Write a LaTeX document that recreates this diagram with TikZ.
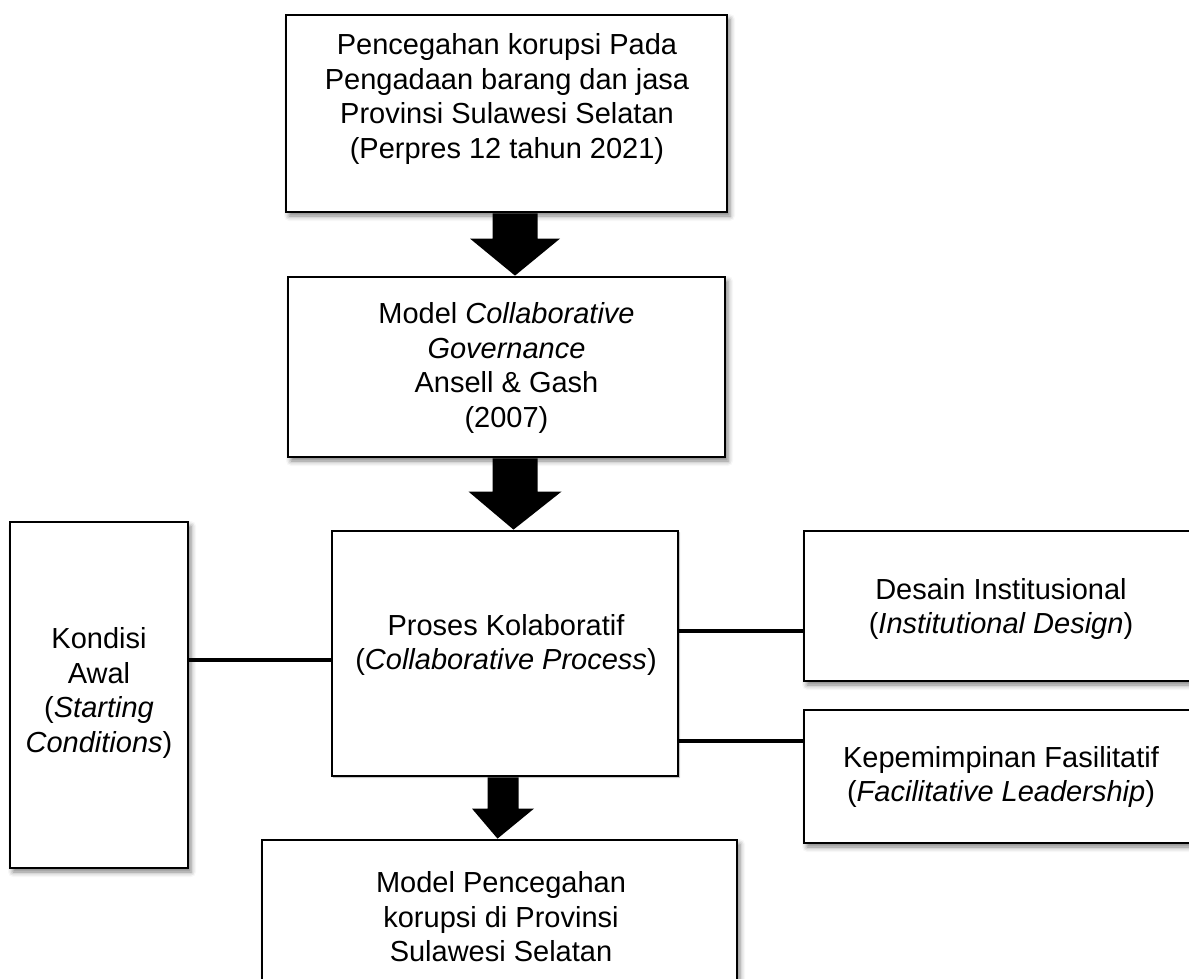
\documentclass[tikz,border=0pt]{standalone}
\usepackage{fontspec}
\setmainfont{Liberation Sans}
\usetikzlibrary{calc,shadows.blur}
\tikzset{
  box/.style={draw=black, line width=2.8pt, fill=white, rectangle, inner sep=0pt,
    blur shadow={shadow xshift=3pt, shadow yshift=-4pt, shadow blur radius=5pt, shadow opacity=50}},
  flatbox/.style={draw=black, line width=2.8pt, fill=white, rectangle, inner sep=0pt,
    blur shadow={shadow xshift=1.5pt, shadow yshift=-1.5pt, shadow blur radius=1pt, shadow opacity=35}},
  txt/.style={align=center, inner sep=0pt, font=\fontsize{29pt}{34.5pt}\selectfont},
  conn/.style={draw=black, line width=3.5pt},
}
\newcommand{\blockarr}[6]{%
  \fill[black] let \p1=([xshift=#3]#1), \p2=([xshift=#3]#2) in
    (\x1-#4,\y1) -- (\x1+#4,\y1) -- (\x1+#4,\y2+#6) -- (\x1+#5,\y2+#6) --
    (\x2,\y2) -- (\x1-#5,\y2+#6) -- (\x1-#4,\y2+#6) -- cycle;}
\begin{document}
\begin{tikzpicture}[x=1pt,y=-1pt]
\useasboundingbox (0,0) rectangle (1189,978);
% boxes
\node[box, minimum width=441pt, minimum height=197pt] (top) at (506.5,113.5) {};
\node[box, minimum width=437pt, minimum height=180pt] (mid) at (506.5,367) {};
\node[flatbox, minimum width=346pt, minimum height=245pt] (proc) at (505,653.5) {};
\node[box, minimum width=178pt, minimum height=346pt] (kond) at (99,695) {};
\node[box, minimum width=394pt, minimum height=150pt] (des) at (1001,606) {};
\node[box, minimum width=394pt, minimum height=133pt] (kep) at (1001,776.5) {};
\node[box, minimum width=475pt, minimum height=170pt] (out) at (499.5,925) {};
% texts
\node[txt] (toptxt) at (507,99) {Pencegahan korupsi Pada\\Pengadaan barang dan jasa\\Provinsi Sulawesi Selatan\\ (Perpres 12 tahun 2021)};
\node[txt] (midtxt) at (506.5,368) {Model \textit{Collaborative}\\\textit{Governance}\\Ansell \& Gash\\(2007)};
\node[txt] (proctxt) at (506,645) {Proses Kolaboratif\\(\textit{Collaborative Process})};
\node[txt] (kondtxt) at (99,693) {Kondisi\\Awal\\(\textit{Starting}\\\textit{Conditions})};
\node[txt] (destxt) at (1001,609) {Desain Institusional\\(\textit{Institutional Design})};
\node[txt] (keptxt) at (1001,777) {Kepemimpinan Fasilitatif\\(\textit{Facilitative Leadership})};
\node[txt] (outtxt) at (501,917) {Model Pencegahan\\korupsi di Provinsi\\Sulawesi Selatan};
% block arrows
\blockarr{top.south}{mid.north}{8.5pt}{22.5pt}{45pt}{37pt}
\blockarr{mid.south}{proc.north}{8.5pt}{22.5pt}{46.5pt}{38pt}
\blockarr{proc.south}{out.north}{-2pt}{15.5pt}{31pt}{30pt}
% connectors
\draw[conn] ([yshift=-6.5pt]proc.west) -- ([yshift=-6.5pt]proc.west -| kond.east);
\draw[conn] ([yshift=22.5pt]proc.east) -- ([yshift=22.5pt]proc.east -| des.west);
\draw[conn] ([yshift=-87.5pt]proc.east) -- ([yshift=-87.5pt]proc.east -| kep.west);
\end{tikzpicture}
\end{document}
